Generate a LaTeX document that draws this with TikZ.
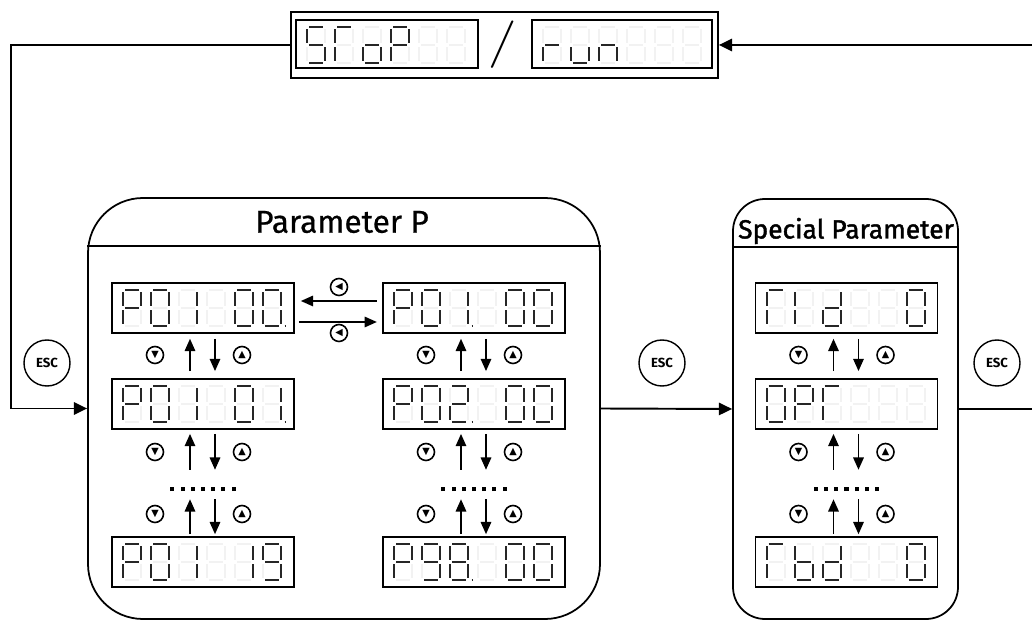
\documentclass[tikz,border=0pt]{standalone}
\usepackage{fontspec}
\setmainfont{Fira Sans}
\newfontfamily\titlefont[FakeBold=0.7]{Fira Sans}
\newfontfamily\headfont[FakeBold=1.6]{Fira Sans}
\newfontfamily\thinfont{Latin Modern Roman}
\newfontfamily\symfont{DejaVu Sans}
\usetikzlibrary{arrows.meta,calc,positioning}
\def\px{0.02cm}
% seven-segment cell, 18 x 36 px, origin top left
\def\lcdsega{(2,0)--(16,0)}
\def\lcdsegb{(18,2)--(18,16)}
\def\lcdsegc{(18,20)--(18,34)}
\def\lcdsegd{(2,36)--(16,36)}
\def\lcdsege{(0,20)--(0,34)}
\def\lcdsegf{(0,2)--(0,16)}
\def\lcdsegg{(2,18)--(16,18)}
\def\lcdsegp{(21.5,35.5)--(22,35.5)}
\def\lcdsegn{}
\newcommand\lcdtext[2]{%
  \begin{scope}[shift={(#1.north west)}]
    \foreach \lcdc [count=\i from 0] in {#2}{
      \begin{scope}[shift={(12+28*\i,8)}]
        \foreach \s in {a,b,c,d,e,f,g}{\draw[ghostseg] \csname lcdseg\s\endcsname;}
        \foreach \s in \lcdc{\draw[litseg] \csname lcdseg\s\endcsname;}
      \end{scope}}
  \end{scope}}
\newcommand\dotsq{\rule{2.3pt}{2.3pt}}
\newcommand\dotrow{\dotsq\hspace{3.5pt}\dotsq\hspace{3.5pt}\dotsq\hspace{3.5pt}\dotsq\hspace{3.5pt}\dotsq\hspace{3.5pt}\dotsq\hspace{3.5pt}\dotsq}
\tikzset{
  lcd/.style={draw, line width=1pt, fill=white, minimum width=182*\px, minimum height=50*\px, inner sep=0pt},
  ghostseg/.style={draw=black!5, line width=1.1pt},
  litseg/.style={draw=black!85, line width=1.1pt},
  panel/.style={draw, line width=1pt},
  flow/.style={draw, line width=1.1pt, -{Triangle[length=7.5pt,width=7pt]}},
  nav/.style={draw, line width=0.9pt, -{Triangle[length=7pt,width=6pt]}},
  btn/.style={circle, draw, line width=0.9pt, minimum size=17*\px, inner sep=0pt, font=\symfont\fontsize{5.5}{5.5}\selectfont},
  esc/.style={circle, draw, line width=0.8pt, minimum size=46*\px, inner sep=0pt, font=\bfseries\fontsize{7.5}{7.5}\selectfont},
}
\begin{document}
\begin{tikzpicture}[x=0.02cm, y=-0.02cm]
  \useasboundingbox (0,0) rectangle (1032,621);
  % run / stop status
  \node[panel, minimum width=427*\px, minimum height=66*\px] (mode) at (504.5,45) {};
  \node[lcd, minimum height=48*\px] (stop) at (387,44) {};
  \node[lcd, minimum width=180*\px, minimum height=48*\px] (run) at (622,44) {};
  \node[font=\thinfont\fontsize{27}{27}\selectfont, xscale=1.3] (slash) at (503,45) {/};
  \lcdtext{stop}{{a,c,d,f,g},{a,e,f},{c,d,e,g},{a,b,e,f,g},n,n}
  \lcdtext{run}{{e,g},{c,d,e},{c,e,g},n,n,n}
  % parameter groups
  \node[panel, rounded corners=1.1cm, minimum width=512*\px, minimum height=421*\px] (parbox) at (344,408.5) {};
  \draw[panel] ($(parbox.north west)+(0,49)$) -- ($(parbox.north east)+(0,49)$);
  \node[font=\titlefont\fontsize{18}{18}\selectfont] (ptitle) at (342,222) {Parameter P};
  \node[panel, rounded corners=0.64cm, minimum width=225*\px, minimum height=420*\px] (spbox) at (845.5,409) {};
  \draw[panel] ($(spbox.north west)+(0,49)$) -- ($(spbox.north east)+(0,49)$);
  \node[font=\headfont\fontsize{15}{15}\selectfont] (stitle) at (846,231) {Special Parameter};
  % displays
  \foreach \c/\cx in {A/203,B/474,C/846.5}{
    \node[lcd] (d\c1) at (\cx,308) {};
    \node[lcd] (d\c2) at (\cx,404) {};
    \node[lcd] (d\c3) at (\cx,562) {};
    \node[inner sep=0pt] (v\c) at (\cx,489) {\dotrow};
    \draw[nav, shorten <=4pt, shorten >=2.8pt] ([xshift=-13*\px]d\c2.north) -- ([xshift=-13*\px]d\c1.south);
    \draw[nav, shorten <=2.8pt, shorten >=4pt] ([xshift=12*\px]d\c1.south) -- ([xshift=12*\px]d\c2.north);
    \draw[nav, shorten <=9.6pt, shorten >=2.3pt] ([xshift=-13*\px]v\c.north) -- ([xshift=-13*\px]d\c2.south);
    \draw[nav, shorten <=2.3pt, shorten >=9.6pt] ([xshift=12*\px]d\c2.south) -- ([xshift=12*\px]v\c.north);
    \draw[nav, shorten <=1.1pt, shorten >=4.5pt] ([xshift=-13*\px]d\c3.north) -- ([xshift=-13*\px]v\c.south);
    \draw[nav, shorten <=4.5pt, shorten >=1.1pt] ([xshift=12*\px]v\c.south) -- ([xshift=12*\px]d\c3.north);
    \foreach \k/\ky in {1/355,2/452,3/514}{
      \node[btn] (kd\c\k) at (\cx-48,\ky) {▼};
      \node[btn] (ku\c\k) at (\cx+39,\ky) {▲};
    }
  }
  \lcdtext{dA1}{{a,b,e,f,g},{a,b,c,d,e,f},{b,c},n,{a,b,c,d,e,f},{a,b,c,d,e,f,p}}
  \lcdtext{dA2}{{a,b,e,f,g},{a,b,c,d,e,f},{b,c},n,{a,b,c,d,e,f},{b,c,p}}
  \lcdtext{dA3}{{a,b,e,f,g},{a,b,c,d,e,f},{b,c},n,{b,c},{a,b,c,d,f,g}}
  \lcdtext{dB1}{{a,b,e,f,g},{a,b,c,d,e,f},{b,c,p},n,{a,b,c,d,e,f},{a,b,c,d,e,f}}
  \lcdtext{dB2}{{a,b,e,f,g},{a,b,c,d,e,f},{a,b,d,e,g,p},n,{a,b,c,d,e,f},{a,b,c,d,e,f}}
  \lcdtext{dB3}{{a,b,e,f,g},{a,b,c,d,f,g},{a,b,c,d,e,f,g,p},n,{a,b,c,d,e,f},{a,b,c,d,e,f}}
  \lcdtext{dC1}{{a,e,f},{e,f},{b,c,d,e,g},n,n,{a,b,c,d,e,f}}
  \lcdtext{dC2}{{a,b,c,d,e,f},{a,b,e,f,g},{a,e,f},n,n,n}
  \lcdtext{dC3}{{a,e,f},{c,d,e,f,g},{b,c,d,e,g},n,n,{a,b,c,d,e,f}}
  % left / right between the two columns
  \draw[nav, shorten <=3pt, shorten >=3.4pt] ([yshift=7*\px]dB1.west) -- ([yshift=7*\px]dA1.east);
  \draw[nav, shorten <=2.3pt, shorten >=3pt] ([yshift=-14*\px]dA1.east) -- ([yshift=-14*\px]dB1.west);
  \node[btn] (kl1) at (339,287) {◀};
  \node[btn] (kl2) at (339,333) {◀};
  % ESC loop
  \node[esc] (escL) at (47,363) {ESC};
  \node[esc] (escM) at (662,363) {ESC};
  \node[esc] (escR) at (997,363) {ESC};
  \coordinate (lft) at (11,408.5);
  \coordinate (rgtin) at (1032,45);
  \coordinate (rgtout) at (1032,409);
  \draw[flow] (mode.west) -| (lft) -- (parbox.west);
  \draw[flow] (parbox.east) -- (spbox.west);
  \draw[flow, -] (spbox.east) -- (rgtout);
  \draw[flow] (rgtin) -- (mode.east);
\end{tikzpicture}
\end{document}
